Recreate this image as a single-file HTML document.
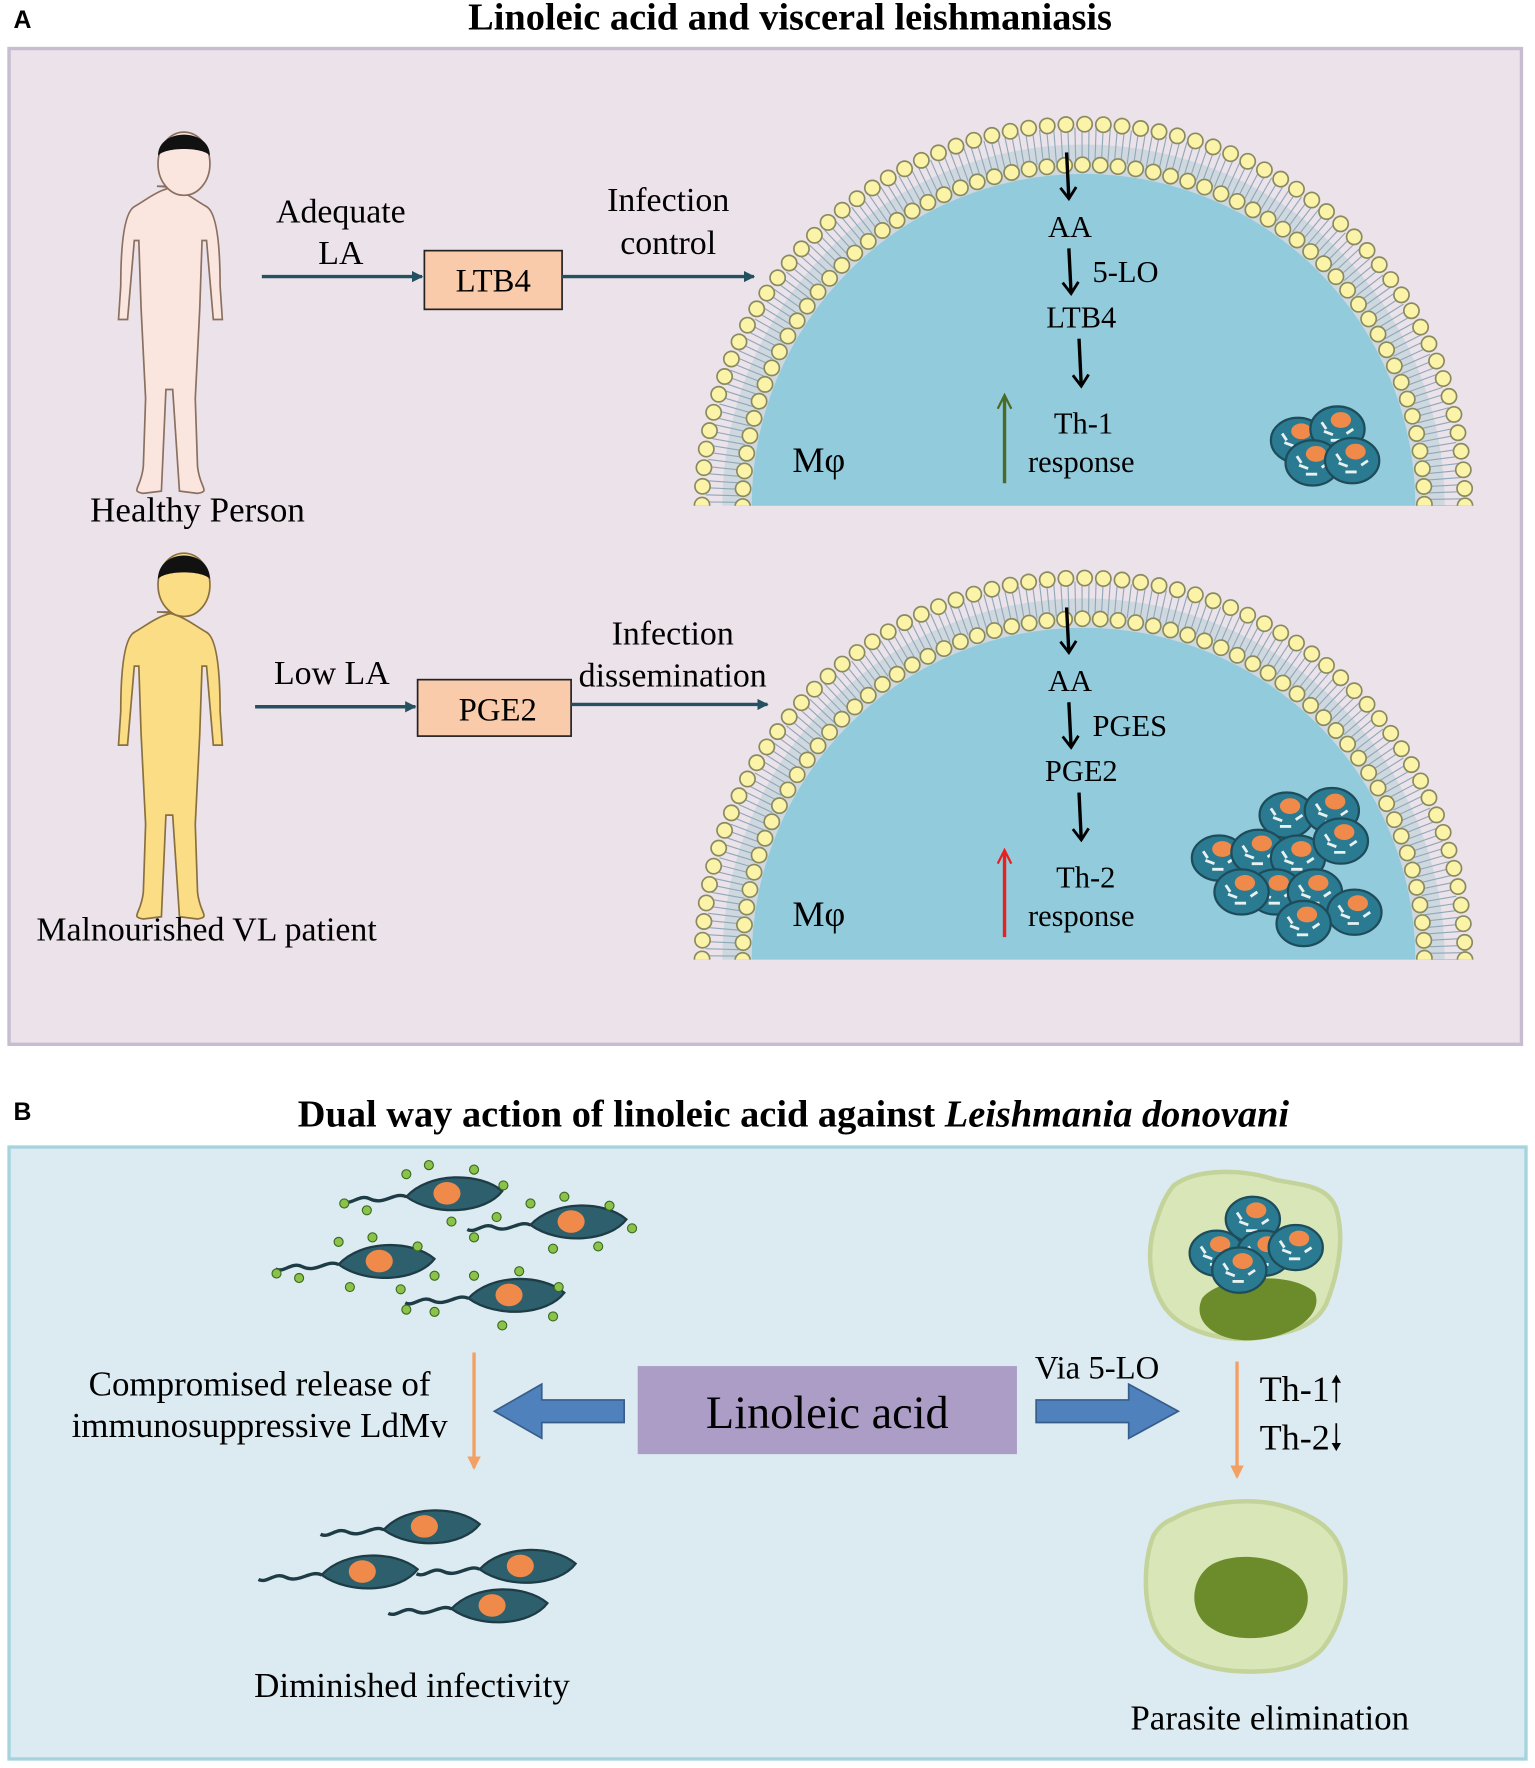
<!DOCTYPE html>
<html><head><meta charset="utf-8"><style>html,body{margin:0;padding:0;background:#fff}svg{display:block}text{font-family:"Liberation Serif",serif}</style></head><body>
<svg width="1535" height="1768" viewBox="0 0 1360 1566" preserveAspectRatio="none" xmlns="http://www.w3.org/2000/svg">
<defs>
<marker id="ah" markerWidth="10" markerHeight="10" refX="9" refY="5" orient="auto" markerUnits="userSpaceOnUse"><path d="M0,0 L10,5 L0,10 z" fill="#24505f"/></marker>
<marker id="ak" markerWidth="14" markerHeight="16" refX="12" refY="8" orient="auto" markerUnits="userSpaceOnUse"><path d="M2,1 L12,8 L2,15" fill="none" stroke="#000" stroke-width="2.5"/></marker>
<marker id="ao" markerWidth="12" markerHeight="12" refX="10" refY="6" orient="auto" markerUnits="userSpaceOnUse"><path d="M0,0 L12,6 L0,12 z" fill="#f4a064"/></marker>
<clipPath id="c1"><rect x="600" y="60" width="720" height="388"/></clipPath>
<clipPath id="c2"><rect x="600" y="460" width="720" height="390"/></clipPath>
<g id="par">
<ellipse cx="0" cy="0" rx="24" ry="20" fill="#2a7b92" stroke="#1e4c5a" stroke-width="2"/>
<ellipse cx="3" cy="-8" rx="9" ry="7" fill="#f08a4b"/>
<path d="M-12,2 l8,3 M-6,10 l10,0 M8,4 l6,-4 M-14,-6 l4,6" stroke="#e8f0f0" stroke-width="2.5"/>
</g>
<g id="pro">
<path d="M-40,0 C-20,-22 25,-22 45,-5 C30,15 -15,18 -40,0 z" fill="#2d5f6c" stroke="#1e3c46" stroke-width="2"/>
<ellipse cx="-4" cy="-3" rx="12" ry="10" fill="#f08a4b"/>
<path d="M-40,0 c-10,-5 -20,8 -32,2 c-10,-5 -16,6 -24,2" fill="none" stroke="#1e3c46" stroke-width="3"/>
</g>
</defs>
<!-- Panel A -->
<text x="12" y="25" font-weight="bold" font-size="22" style="font-family:'Liberation Sans',sans-serif">A</text>
<text x="700" y="26" text-anchor="middle" font-weight="bold" font-size="34">Linoleic acid and visceral leishmaniasis</text>
<rect x="8" y="43" width="1340" height="882" fill="#ebe2ea" stroke="#c7bcd0" stroke-width="3"/>

<g clip-path="url(#c1)">
<circle cx="960" cy="448" r="320" fill="#cfd8df"/>
<circle cx="960" cy="448" r="320" fill="none" stroke="#8fa8b8" stroke-width="30" stroke-dasharray="1 5"/>
<circle cx="960" cy="448" r="294" fill="#92cbdc"/>
<circle cx="960" cy="448" r="338" fill="none" stroke="#8a8a60" stroke-width="15" stroke-dasharray="0 16.6" stroke-linecap="round"/>
<circle cx="960" cy="448" r="338" fill="none" stroke="#fbf3a8" stroke-width="12" stroke-dasharray="0 16.6" stroke-linecap="round"/>
<circle cx="960" cy="448" r="302" fill="none" stroke="#8a8a60" stroke-width="15" stroke-dasharray="0 15.8" stroke-linecap="round"/>
<circle cx="960" cy="448" r="302" fill="none" stroke="#fbf3a8" stroke-width="12" stroke-dasharray="0 15.8" stroke-linecap="round"/>
</g>
<g clip-path="url(#c2)">
<circle cx="960" cy="850" r="320" fill="#cfd8df"/>
<circle cx="960" cy="850" r="320" fill="none" stroke="#8fa8b8" stroke-width="30" stroke-dasharray="1 5"/>
<circle cx="960" cy="850" r="294" fill="#92cbdc"/>
<circle cx="960" cy="850" r="338" fill="none" stroke="#8a8a60" stroke-width="15" stroke-dasharray="0 16.6" stroke-linecap="round"/>
<circle cx="960" cy="850" r="338" fill="none" stroke="#fbf3a8" stroke-width="12" stroke-dasharray="0 16.6" stroke-linecap="round"/>
<circle cx="960" cy="850" r="302" fill="none" stroke="#8a8a60" stroke-width="15" stroke-dasharray="0 15.8" stroke-linecap="round"/>
<circle cx="960" cy="850" r="302" fill="none" stroke="#fbf3a8" stroke-width="12" stroke-dasharray="0 15.8" stroke-linecap="round"/>
</g>

<g fill="#fbe6df" stroke="#8a7060" stroke-width="1.5">
<path d="M163,165 c-20,0 -30,10 -44,18 c-10,6 -12,40 -12,70 l-2,30 l8,0 l6,-70 l4,0 l2,60 l4,80 l-2,60 c-2,20 -12,22 0,24 l16,-2 l4,-90 l6,0 l6,90 l16,2 c12,-2 2,-4 0,-24 l-2,-60 l4,-80 l2,-60 l4,0 l6,70 l8,0 l-2,-30 c0,-30 -2,-64 -12,-70 c-14,-8 -24,-18 -44,-18 z"/>
<ellipse cx="163" cy="145" rx="23" ry="28"/>
</g>
<path d="M140,138 c0,-25 46,-25 46,0 c-6,-8 -40,-8 -46,0 z" fill="#111"/>
<g fill="#fadd85" stroke="#8a7040" stroke-width="1.5">
<path d="M163,542 c-20,0 -30,10 -44,18 c-10,6 -12,40 -12,70 l-2,30 l8,0 l6,-70 l4,0 l2,60 l4,80 l-2,60 c-2,20 -12,22 0,24 l16,-2 l4,-90 l6,0 l6,90 l16,2 c12,-2 2,-4 0,-24 l-2,-60 l4,-80 l2,-60 l4,0 l6,70 l8,0 l-2,-30 c0,-30 -2,-64 -12,-70 c-14,-8 -24,-18 -44,-18 z"/>
<ellipse cx="163" cy="518" rx="23" ry="28"/>
</g>
<path d="M140,513 c0,-28 46,-28 46,0 c-6,-8 -40,-8 -46,0 z" fill="#111"/>
<text x="175" y="462" text-anchor="middle" font-size="31">Healthy Person</text>
<text x="183" y="833" text-anchor="middle" font-size="30">Malnourished VL patient</text>

<text x="302" y="197" text-anchor="middle" font-size="30">Adequate</text>
<text x="302" y="234" text-anchor="middle" font-size="30">LA</text>
<line x1="232" y1="245" x2="374" y2="245" stroke="#24505f" stroke-width="3" marker-end="url(#ah)"/>
<rect x="376" y="222" width="122" height="52" fill="#f9cbaa" stroke="#222" stroke-width="1.5"/>
<text x="437" y="258" text-anchor="middle" font-size="29">LTB4</text>
<line x1="498" y1="245" x2="668" y2="245" stroke="#24505f" stroke-width="3" marker-end="url(#ah)"/>
<text x="592" y="187" text-anchor="middle" font-size="30">Infection</text>
<text x="592" y="225" text-anchor="middle" font-size="30">control</text>
<text x="294" y="606" text-anchor="middle" font-size="30">Low LA</text>
<line x1="226" y1="626" x2="368" y2="626" stroke="#24505f" stroke-width="3" marker-end="url(#ah)"/>
<rect x="370" y="602" width="136" height="50" fill="#f9cbaa" stroke="#222" stroke-width="1.5"/>
<text x="441" y="638" text-anchor="middle" font-size="29">PGE2</text>
<line x1="506" y1="624" x2="680" y2="624" stroke="#24505f" stroke-width="3" marker-end="url(#ah)"/>
<text x="596" y="571" text-anchor="middle" font-size="30">Infection</text>
<text x="596" y="608" text-anchor="middle" font-size="30">dissemination</text>

<g stroke="#000" stroke-width="3" marker-end="url(#ak)">
<line x1="945" y1="135" x2="947" y2="176"/>
<line x1="947" y1="220" x2="949" y2="260"/>
<line x1="956" y1="300" x2="958" y2="342"/>
<line x1="945" y1="538" x2="947" y2="578"/>
<line x1="947" y1="622" x2="949" y2="662"/>
<line x1="956" y1="702" x2="958" y2="744"/>
</g>
<g font-size="27">
<text x="948" y="210" text-anchor="middle">AA</text>
<text x="968" y="250">5-LO</text>
<text x="958" y="290" text-anchor="middle">LTB4</text>
<text x="960" y="384" text-anchor="middle">Th-1</text>
<text x="958" y="418" text-anchor="middle">response</text>
<text x="702" y="418" font-size="32">Mφ</text>
<text x="948" y="612" text-anchor="middle">AA</text>
<text x="968" y="652">PGES</text>
<text x="958" y="692" text-anchor="middle">PGE2</text>
<text x="962" y="786" text-anchor="middle">Th-2</text>
<text x="958" y="820" text-anchor="middle">response</text>
<text x="702" y="820" font-size="32">Mφ</text>
</g>
<line x1="890" y1="428" x2="890" y2="352" stroke="#4a6a28" stroke-width="3"/>
<path d="M884,362 L890,350 L896,362" fill="none" stroke="#4a6a28" stroke-width="2"/>
<line x1="890" y1="830" x2="890" y2="755" stroke="#e82020" stroke-width="3"/>
<path d="M884,765 L890,753 L896,765" fill="none" stroke="#e82020" stroke-width="2"/>
<use href="#par" x="1150" y="390"/><use href="#par" x="1185" y="380"/><use href="#par" x="1163" y="410"/><use href="#par" x="1198" y="408"/>
<use href="#par" x="1140" y="722"/><use href="#par" x="1180" y="718"/><use href="#par" x="1080" y="760"/><use href="#par" x="1115" y="755"/><use href="#par" x="1150" y="760"/><use href="#par" x="1188" y="745"/><use href="#par" x="1130" y="790"/><use href="#par" x="1165" y="790"/><use href="#par" x="1200" y="808"/><use href="#par" x="1155" y="818"/><use href="#par" x="1100" y="790"/>

<!-- Panel B -->
<text x="12" y="992" font-weight="bold" font-size="22" style="font-family:'Liberation Sans',sans-serif">B</text>
<text x="703" y="998" text-anchor="middle" font-weight="bold" font-size="34">Dual way action of linoleic acid against <tspan font-style="italic">Leishmania donovani</tspan></text>
<rect x="8" y="1016" width="1344" height="542" fill="#dcebf1" stroke="#a6d3de" stroke-width="3"/>
<rect x="565" y="1210" width="336" height="78" fill="#ab9dc6"/>
<text x="733" y="1265" text-anchor="middle" font-size="41">Linoleic acid</text>
<path d="M553,1240 L480,1240 L480,1226 L438,1250 L480,1274 L480,1260 L553,1260 z" fill="#4f81bd" stroke="#385d8a" stroke-width="1.5"/>
<path d="M918,1240 L1000,1240 L1000,1226 L1044,1250 L1000,1274 L1000,1260 L918,1260 z" fill="#4f81bd" stroke="#385d8a" stroke-width="1.5"/>
<text x="972" y="1221" text-anchor="middle" font-size="29">Via 5-LO</text>
<text x="230" y="1236" text-anchor="middle" font-size="31">Compromised release of</text>
<text x="230" y="1273" text-anchor="middle" font-size="31">immunosuppressive LdMv</text>
<line x1="420" y1="1198" x2="420" y2="1300" stroke="#f4a064" stroke-width="3" marker-end="url(#ao)"/>
<line x1="1096" y1="1206" x2="1096" y2="1308" stroke="#f4a064" stroke-width="3" marker-end="url(#ao)"/>
<text x="1116" y="1241" font-size="32">Th-1🠑</text>
<text x="1116" y="1284" font-size="32">Th-2🠓</text>
<text x="365" y="1503" text-anchor="middle" font-size="31">Diminished infectivity</text>
<text x="1125" y="1532" text-anchor="middle" font-size="31">Parasite elimination</text>
<g>
<use href="#pro" x="400" y="1060"/><use href="#pro" x="510" y="1085"/><use href="#pro" x="340" y="1120"/><use href="#pro" x="455" y="1150"/>
<g fill="#8bc34a" stroke="#3a6a20" stroke-width="1">
<circle cx="360" cy="1040" r="4"/><circle cx="380" cy="1032" r="4"/><circle cx="420" cy="1036" r="4"/><circle cx="446" cy="1050" r="4"/><circle cx="440" cy="1078" r="4"/><circle cx="400" cy="1082" r="4"/><circle cx="305" cy="1066" r="4"/><circle cx="325" cy="1072" r="4"/>
<circle cx="470" cy="1066" r="4"/><circle cx="500" cy="1060" r="4"/><circle cx="540" cy="1068" r="4"/><circle cx="560" cy="1088" r="4"/><circle cx="530" cy="1104" r="4"/><circle cx="490" cy="1106" r="4"/><circle cx="420" cy="1096" r="4"/>
<circle cx="300" cy="1100" r="4"/><circle cx="330" cy="1096" r="4"/><circle cx="370" cy="1104" r="4"/><circle cx="385" cy="1130" r="4"/><circle cx="355" cy="1142" r="4"/><circle cx="310" cy="1140" r="4"/><circle cx="245" cy="1128" r="4"/><circle cx="265" cy="1132" r="4"/>
<circle cx="420" cy="1130" r="4"/><circle cx="460" cy="1126" r="4"/><circle cx="495" cy="1140" r="4"/><circle cx="490" cy="1166" r="4"/><circle cx="445" cy="1174" r="4"/><circle cx="360" cy="1160" r="4"/><circle cx="385" cy="1162" r="4"/>
</g>
</g>
<use href="#pro" x="380" y="1355"/><use href="#pro" x="325" y="1395"/><use href="#pro" x="465" y="1390"/><use href="#pro" x="440" y="1425"/>
<path d="M1040,1050 c20,-15 60,-15 90,-5 c25,5 50,5 55,30 c6,25 0,55 -10,80 c-10,20 -30,25 -60,30 c-30,4 -70,-5 -85,-30 c-12,-20 -15,-50 -5,-75 c3,-10 8,-22 15,-30 z" fill="#d9e6b8" stroke="#c3d39a" stroke-width="4"/>
<path d="M1065,1150 c15,-20 80,-25 100,-5 c8,20 -20,40 -55,42 c-30,2 -55,-15 -45,-37 z" fill="#6c8c2c"/>
<use href="#par" x="1078" y="1110"/><use href="#par" x="1110" y="1080"/><use href="#par" x="1120" y="1110"/><use href="#par" x="1148" y="1105"/><use href="#par" x="1098" y="1125"/>
<path d="M1040,1345 c25,-15 70,-20 100,-10 c25,8 45,20 50,45 c6,30 -2,60 -18,80 c-18,20 -50,22 -80,20 c-30,-3 -60,-15 -70,-40 c-10,-25 -8,-60 0,-80 c5,-8 10,-12 18,-15 z" fill="#d9e6b8" stroke="#c3d39a" stroke-width="4"/>
<path d="M1075,1385 c20,-10 55,-8 75,10 c15,15 10,40 -10,50 c-25,10 -60,8 -75,-10 c-12,-15 -8,-40 10,-50 z" fill="#6c8c2c"/>
</svg>
</body></html>
